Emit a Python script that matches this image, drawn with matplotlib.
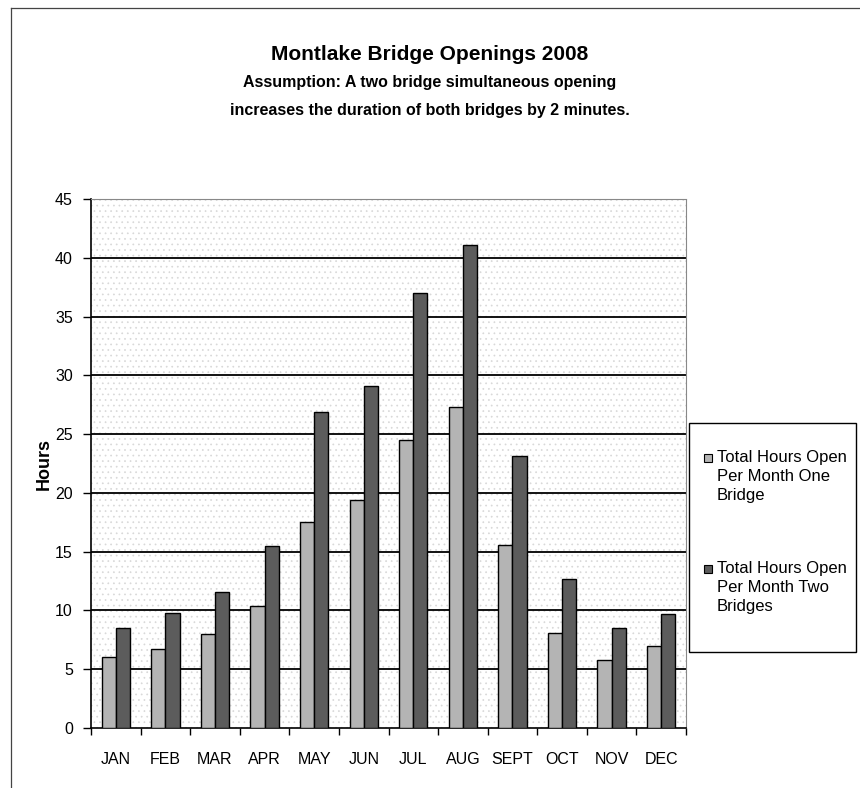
import matplotlib
matplotlib.use("Agg")
import matplotlib.pyplot as plt
from matplotlib.patches import Rectangle
from matplotlib.lines import Line2D
import numpy as np

plt.rcParams['font.family'] = ['Liberation Sans', 'DejaVu Sans']
plt.rcParams['hatch.linewidth'] = 0.5

months = ["JAN", "FEB", "MAR", "APR", "MAY", "JUN", "JUL", "AUG", "SEPT", "OCT", "NOV", "DEC"]
one_bridge = [6.0, 6.7, 8.0, 10.4, 17.5, 19.4, 24.5, 27.3, 15.6, 8.1, 5.8, 7.0]
two_bridges = [8.5, 9.8, 11.6, 15.5, 26.9, 29.1, 37.0, 41.1, 23.1, 12.7, 8.5, 9.7]
series_labels = ["Total Hours Open\nPer Month One\nBridge", "Total Hours Open\nPer Month Two\nBridges"]
series_colors = ['#b4b4b4', '#5c5c5c']
yticks = [0, 5, 10, 15, 20, 25, 30, 35, 40, 45]

W, H = 860, 788
fig = plt.figure(figsize=(W / 100, H / 100), dpi=100)
fig.patch.set_facecolor('white')
# outer frame (left and top edges visible)
fig.add_artist(Line2D([11 / W, 11 / W], [0, 1 - 8 / H], transform=fig.transFigure, color='#444444', lw=0.9))
fig.add_artist(Line2D([11 / W, 1], [1 - 8 / H, 1 - 8 / H], transform=fig.transFigure, color='#444444', lw=0.9))

ax = fig.add_axes([91 / W, 1 - 728 / H, 595 / W, 529 / H])
ax.set_facecolor('white')
ax.add_patch(Rectangle((0, 0), 1, 1, transform=ax.transAxes, facecolor='white',
                       edgecolor='#d8d8d8', hatch='...', lw=0, zorder=0))

x = np.arange(len(months))
bw = 0.285
ax.bar(x - bw / 2, one_bridge, bw, color=series_colors[0], edgecolor='black', lw=1.0, zorder=3)
ax.bar(x + bw / 2, two_bridges, bw, color=series_colors[1], edgecolor='black', lw=1.0, zorder=3)

ax.set_xlim(-0.5, len(months) - 0.5)
ax.set_ylim(0, 45)
ax.set_yticks(yticks)
ax.set_yticklabels([str(v) for v in yticks], fontsize=11.5)
for v in yticks[1:]:
    ax.axhline(v, color='black', lw=1.3, zorder=1)
ax.set_xticks(x)
ax.set_xticklabels(months, fontsize=11.5)
ax.set_xticks(np.arange(-0.5, len(months)), minor=True)
ax.tick_params(axis='x', which='major', length=0, pad=17)
ax.tick_params(axis='x', which='minor', length=5, direction='out', width=1)
ax.tick_params(axis='y', length=6, direction='out', width=1, pad=7)
for s in ['left', 'bottom']:
    ax.spines[s].set_color('black')
    ax.spines[s].set_linewidth(1.2)
for s in ['top', 'right']:
    ax.spines[s].set_color('#888888')
    ax.spines[s].set_linewidth(0.8)
    ax.spines[s].set_linestyle((0, (2, 1)))

ax.set_ylabel("Hours", fontsize=13, fontweight='bold', labelpad=2)

fig.text(0.5, 1 - 55 / H, "Montlake Bridge Openings 2008", ha='center', va='center',
         fontsize=15, fontweight='bold')
fig.text(0.5, 1 - 83 / H, "Assumption: A two bridge simultaneous opening", ha='center', va='center',
         fontsize=11.5, fontweight='bold')
fig.text(0.5, 1 - 110 / H, "increases the duration of both bridges by 2 minutes.", ha='center', va='center',
         fontsize=11.5, fontweight='bold')

# legend (drawn manually so the swatch aligns with the first text line)
lx0, lx1, ly0, ly1 = 689, 856, 423, 652
fig.add_artist(Rectangle((lx0 / W, 1 - ly1 / H), (lx1 - lx0) / W, (ly1 - ly0) / H,
                         transform=fig.transFigure, facecolor='white', edgecolor='black', lw=1.0))
first_lines = [458, 569]
for lbl, col, ty in zip(series_labels, series_colors, first_lines):
    fig.add_artist(Rectangle((704 / W, 1 - (ty + 4) / H), 8 / W, 8 / H, transform=fig.transFigure,
                             facecolor=col, edgecolor='black', lw=0.8))
    fig.text(717 / W, 1 - (ty - 8) / H, lbl, ha='left', va='top', fontsize=12, linespacing=1.35)

fig.savefig("out.png", dpi=100)
